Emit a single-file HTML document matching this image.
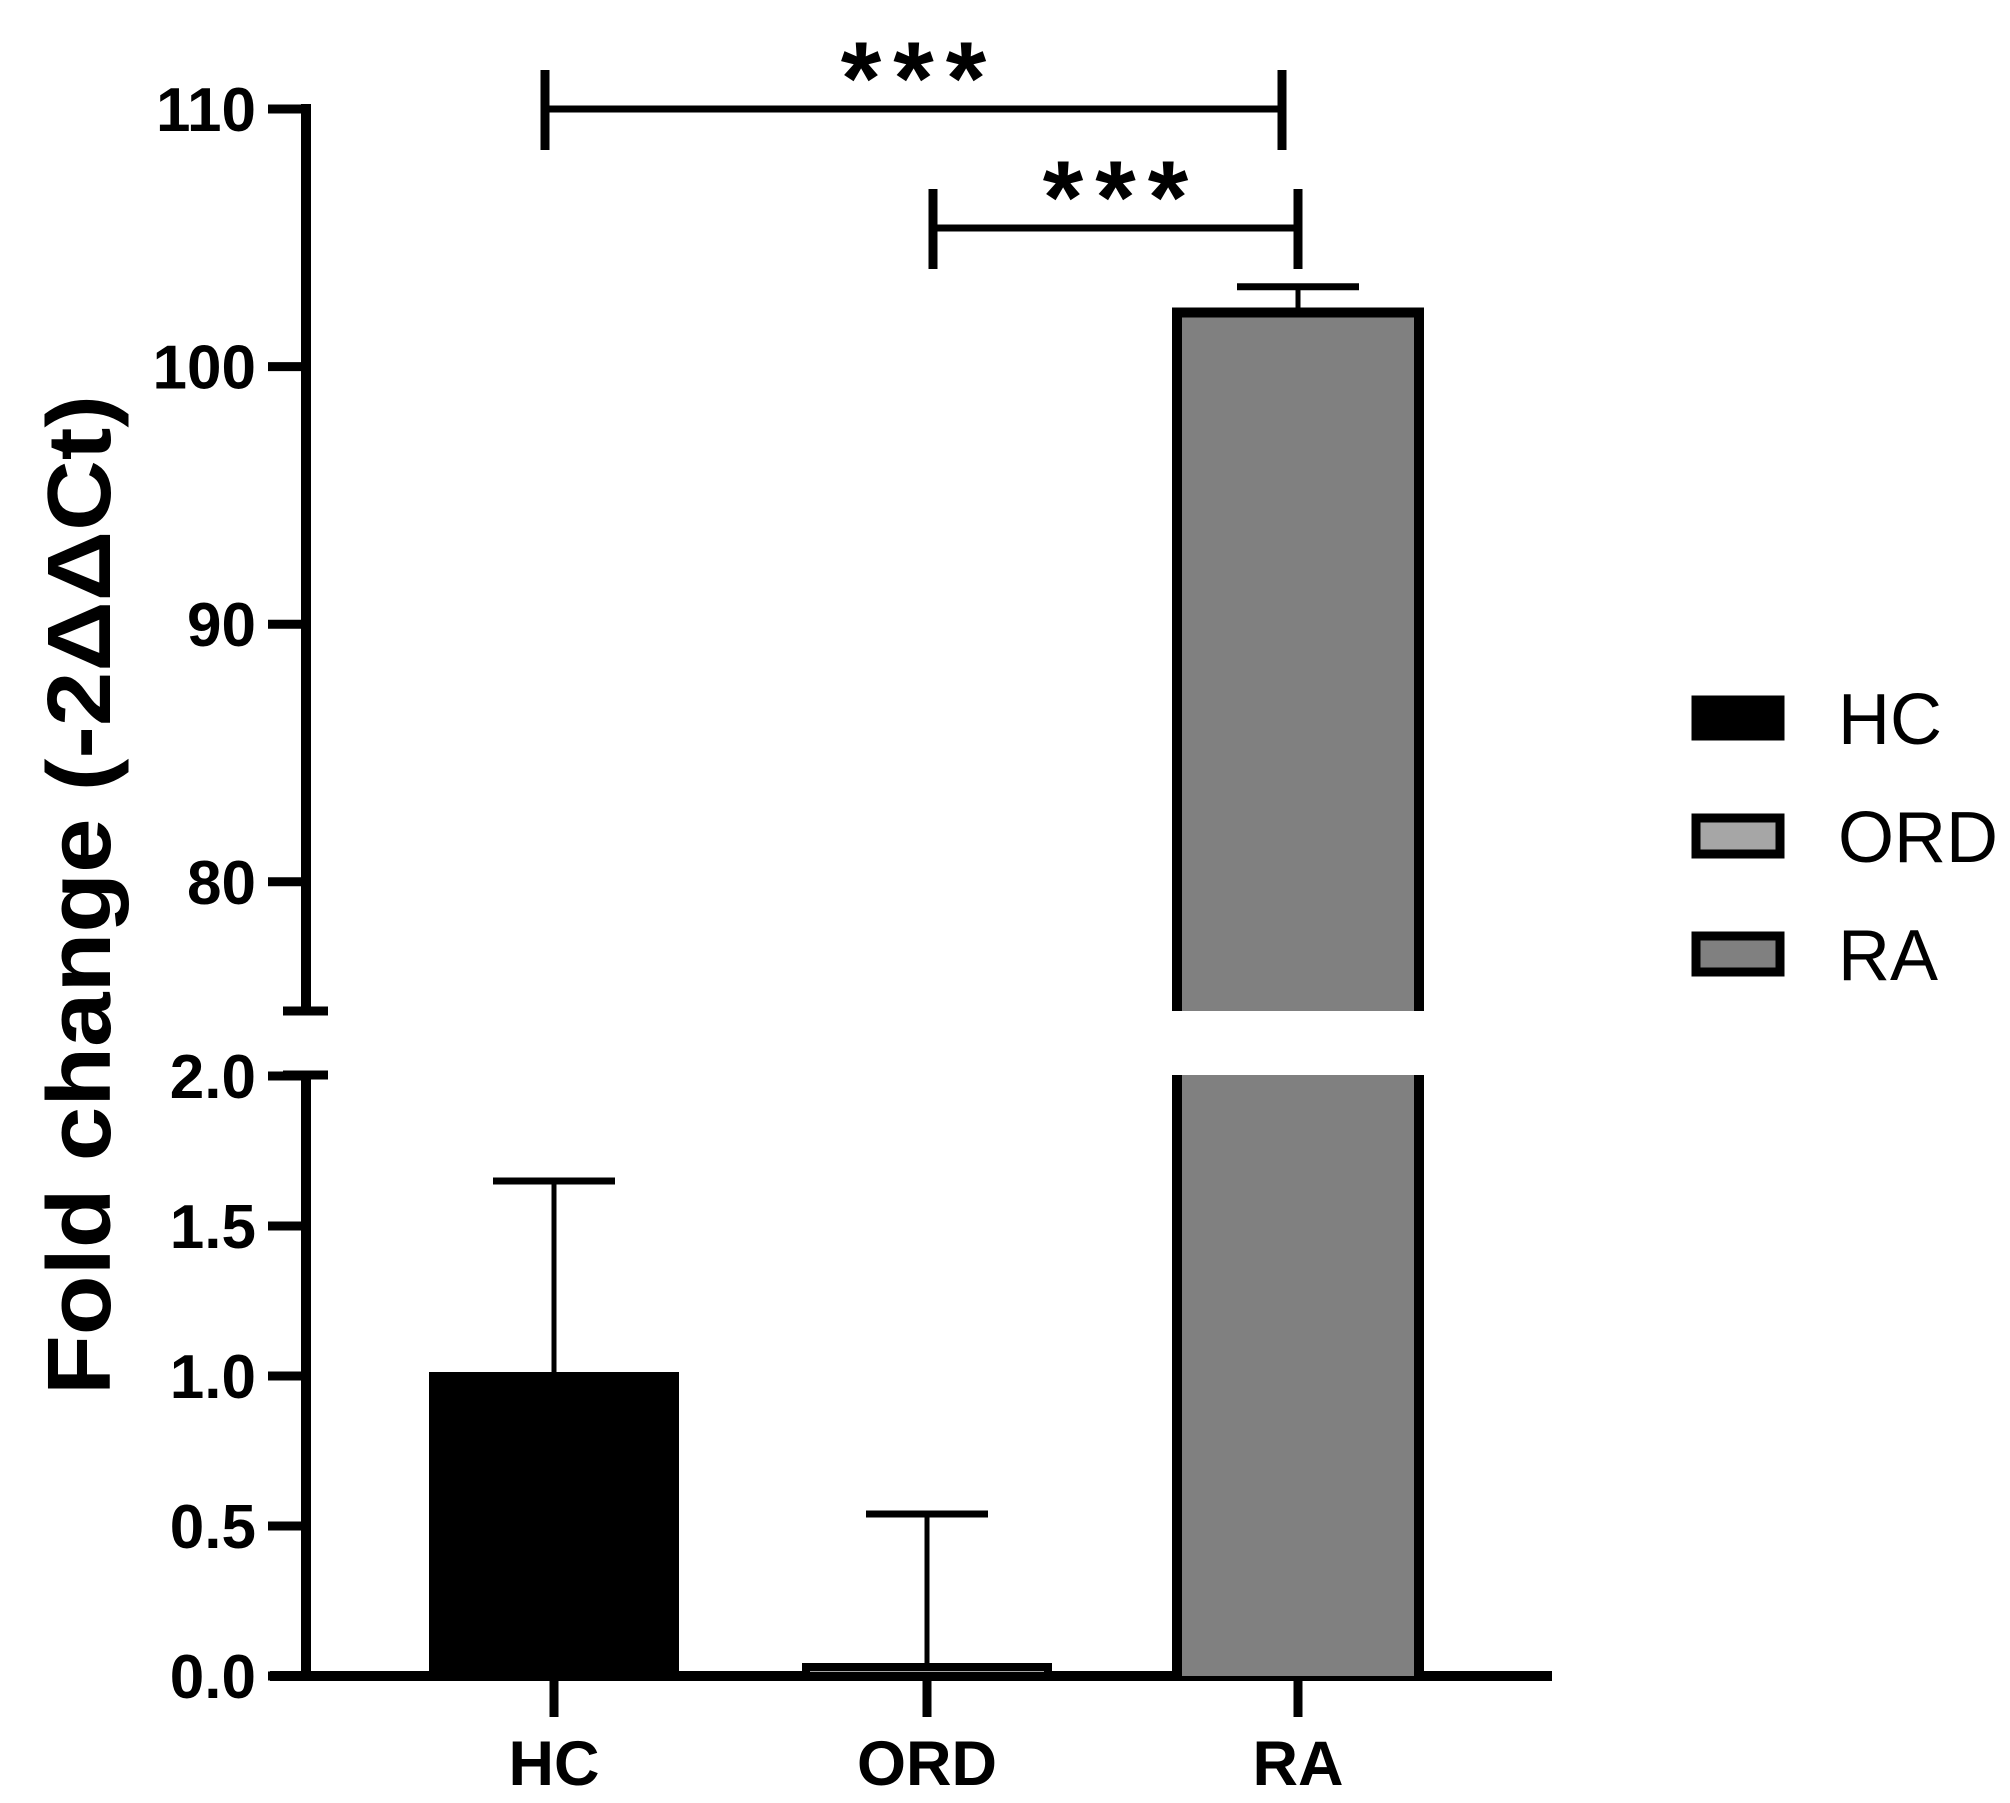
<!DOCTYPE html>
<html><head><meta charset="utf-8"><style>
html,body{margin:0;padding:0;background:#fff;}
svg{display:block;font-family:"Liberation Sans",Arial,sans-serif;}
</style></head><body>
<svg id="chart" width="2010" height="1803" viewBox="0 0 2010 1803" xmlns="http://www.w3.org/2000/svg">
<text transform="translate(110,895) rotate(-90)" text-anchor="middle" font-weight="bold" font-size="90" textLength="1000" lengthAdjust="spacingAndGlyphs">Fold change (-2ΔΔCt)</text>
<g id="axes"></g><g id="bars"></g><g id="sig"></g><g id="legend"></g>
</svg>
<script>
const categories = ["HC", "ORD", "RA"];
const means = [1.0, 0.03, 102.1];
const errors = [0.65, 0.51, 1.0];
const fills = ["#000000", "#a6a6a6", "#808080"];
const lowerTicks = [0.0, 0.5, 1.0, 1.5, 2.0];
const lowerTickLabels = ["0.0", "0.5", "1.0", "1.5", "2.0"];
const upperTicks = [80, 90, 100, 110];
const upperTickLabels = ["80", "90", "100", "110"];
const sigPairs = [[0, 2], [1, 2]];
const sigLabels = ["***", "***"];

const NS = "http://www.w3.org/2000/svg";
function mk(tag, attrs, parent) {
  const e = document.createElementNS(NS, tag);
  for (const k in attrs) e.setAttribute(k, attrs[k]);
  parent.appendChild(e); return e;
}
const AX = 306, LY0 = 1676, LPX = 300;
const UY110 = 109, UPX = 25.76;
const lowerTop = 1075, upperBottom = 1011, upperLowVal = 110 - (upperBottom - UY110) / UPX;
function yLower(v) { return LY0 - v * LPX; }
function yUpper(v) { return UY110 - (v - 110) * UPX; }
function yAny(v) { return v <= 2 ? yLower(v) : (v >= upperLowVal ? yUpper(v) : null); }
const xCenters = [554, 927, 1298];
const BW = 242, CAPW = 122;

const axes = document.getElementById("axes");
const bars = document.getElementById("bars");
const sig = document.getElementById("sig");
const legend = document.getElementById("legend");

let a = mk("line", {x1: AX, y1: lowerTop, x2: AX, y2: LY0 + 5, stroke: "#000", "stroke-width": 10}, axes);


a = mk("line", {x1: AX, y1: UY110 - 5, x2: AX, y2: upperBottom, stroke: "#000", "stroke-width": 10}, axes);


a = mk("line", {x1: 283, y1: upperBottom, x2: 328, y2: upperBottom, stroke: "#000", "stroke-width": 9}, axes);


a = mk("line", {x1: 283, y1: lowerTop, x2: 328, y2: lowerTop, stroke: "#000", "stroke-width": 9}, axes);


a = mk("line", {x1: 270, y1: LY0, x2: 1552, y2: LY0, stroke: "#000", "stroke-width": 10}, axes);



lowerTicks.forEach((v, i) => {
  const y = yLower(v);
  const t = mk("line", {x1: 268, y1: y, x2: AX, y2: y, stroke: "#000", "stroke-width": 9}, axes);
  
  
  const l = mk("text", {x: 256, y: y + 22, "text-anchor": "end", "font-size": 62, "font-weight": "bold"}, axes);
  l.textContent = lowerTickLabels[i];
  
  
});
upperTicks.forEach((v, i) => {
  const y = yUpper(v);
  const t = mk("line", {x1: 268, y1: y, x2: AX, y2: y, stroke: "#000", "stroke-width": 9}, axes);
  
  
  const l = mk("text", {x: 256, y: y + 22, "text-anchor": "end", "font-size": 62, "font-weight": "bold"}, axes);
  l.textContent = upperTickLabels[i];
  
  
});

categories.forEach((c, i) => {
  const cx = xCenters[i];
  const t = mk("line", {x1: cx, y1: LY0, x2: cx, y2: 1717, stroke: "#000", "stroke-width": 9}, axes);
  
  
  const l = mk("text", {x: cx, y: 1785, "text-anchor": "middle", "font-size": 63, "font-weight": "bold"}, axes);
  l.textContent = c;
  
  

  const m = means[i], e = errors[i];
  const x = cx - BW / 2;
  const yTop = yAny(m + e), yM = yAny(m);
  const ev = mk("line", {x1: cx, y1: yTop, x2: cx, y2: yM, stroke: "#000", "stroke-width": 5}, bars);
  
  
  const ec = mk("line", {x1: cx - CAPW / 2, y1: yTop, x2: cx + CAPW / 2, y2: yTop, stroke: "#000", "stroke-width": 7}, bars);
  
  
  if (m <= 2) {
    const r = mk("rect", {x: x, y: yLower(m), width: BW, height: LY0 - yLower(m), fill: fills[i], stroke: "#000", "stroke-width": 8}, bars);
    
    
  } else {
    const r1 = mk("path", {d: `M${x},${upperBottom} L${x},${yUpper(m)} L${x + BW},${yUpper(m)} L${x + BW},${upperBottom}`, fill: fills[i], stroke: "#000", "stroke-width": 10}, bars);
    
    
    const r2f = mk("rect", {x: x, y: lowerTop, width: BW, height: LY0 - lowerTop, fill: fills[i]}, bars);
    
    
    const r2 = mk("path", {d: `M${x},${LY0} L${x},${lowerTop} M${x + BW},${lowerTop} L${x + BW},${LY0}`, fill: "none", stroke: "#000", "stroke-width": 10}, bars);
    
    
  }
});

const sigY = [109, 228];
const sigXs = [[545, 1282], [933, 1298]];
sigPairs.forEach((p, k) => {
  const [xa, xb] = sigXs[k]; const y = sigY[k];
  const g = mk("g", {}, sig);
  
  
  mk("line", {x1: xa, y1: y, x2: xb, y2: y, stroke: "#000", "stroke-width": 7}, g);
  mk("line", {x1: xa, y1: y - 39, x2: xa, y2: y + 41, stroke: "#000", "stroke-width": 9}, g);
  mk("line", {x1: xb, y1: y - 39, x2: xb, y2: y + 41, stroke: "#000", "stroke-width": 9}, g);
  const t = mk("text", {x: (xa + xb) / 2 + 6, y: y + 5, "text-anchor": "middle", "font-size": 104, "font-weight": "bold", "letter-spacing": "12"}, g);
  t.textContent = sigLabels[k];
  
  
});

const legY = [718, 836, 954];
categories.forEach((c, i) => {
  const g = mk("g", {}, legend);
  
  
  mk("rect", {x: 1696, y: legY[i] - 18, width: 84, height: 36, fill: fills[i], stroke: "#000", "stroke-width": 9}, g);
  const t = mk("text", {x: 1838, y: legY[i] + 26, "font-size": 72}, g);
  t.textContent = c;
});
</script>
</body></html>
